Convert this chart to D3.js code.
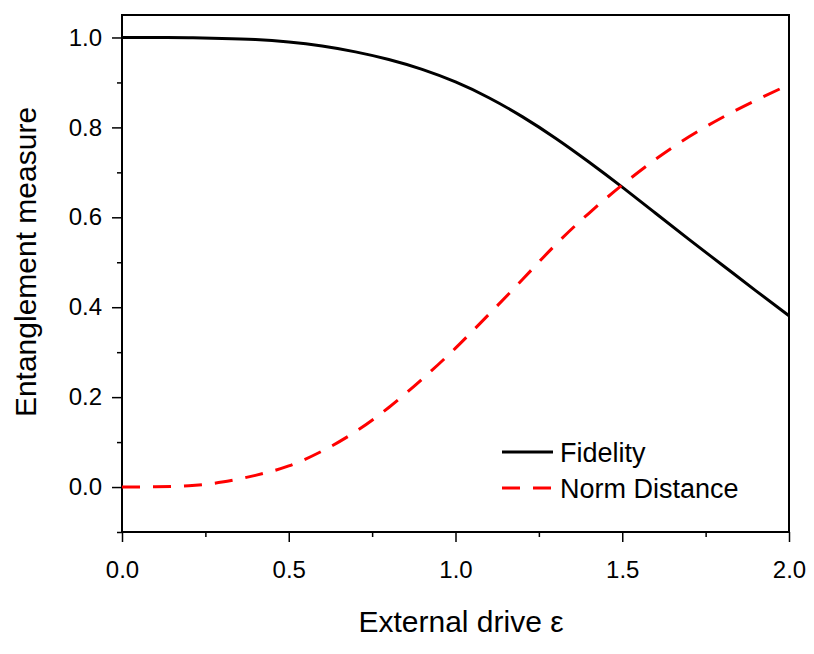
<!DOCTYPE html>
<html>
<head>
<meta charset="utf-8">
<script src="https://cdn.jsdelivr.net/npm/d3@7"></script>
<style>
  body { margin: 0; background: #fff; }
  text { font-family: "Liberation Sans", Arial, sans-serif; fill: #000; }
</style>
</head>
<body>
<svg id="chart" width="814" height="654"></svg>
<script>
//
// Data
//

var drive = [0, 0.1, 0.2, 0.3, 0.4, 0.5, 0.6, 0.7, 0.8, 0.9, 1.0,
             1.1, 1.2, 1.3, 1.4, 1.5, 1.6, 1.7, 1.8, 1.9, 2.0]
var fidelity = [1.0, 0.9999, 0.9993, 0.998, 0.9955, 0.990, 0.981, 0.968, 0.951, 0.929, 0.901,
                0.866, 0.824, 0.776, 0.723, 0.667, 0.609, 0.551, 0.494, 0.437, 0.381]
var normDistance = [0, 0.0005, 0.003, 0.011, 0.026, 0.047, 0.080, 0.123, 0.177, 0.240, 0.309,
                    0.384, 0.461, 0.539, 0.609, 0.672, 0.729, 0.779, 0.822, 0.860, 0.895]
var xTicks = [0, 0.5, 1.0, 1.5, 2.0]
var yTicks = [0, 0.2, 0.4, 0.6, 0.8, 1.0]
var legendLabels = ['Fidelity', 'Norm Distance']

//
// Layout
//

var margin = { left: 122, top: 15, right: 25, bottom: 122 }
var svg = d3.select('#chart')
var width = 814 - margin.left - margin.right
var height = 654 - margin.top - margin.bottom
var g = svg.append('g').attr('transform', 'translate(' + margin.left + ',' + margin.top + ')')

var x = d3.scaleLinear().domain([0, 2]).range([0, width])
var y = d3.scaleLinear().domain([-0.1, 1.05]).range([height, 0])

// frame
g.append('rect')
  .attr('width', width).attr('height', height)
  .attr('fill', 'none').attr('stroke', '#000').attr('stroke-width', 2)

// minor ticks
g.append('g')
  .attr('transform', 'translate(0,' + height + ')')
  .call(d3.axisBottom(x).tickValues([0.25, 0.75, 1.25, 1.75]).tickSize(5).tickFormat('').tickSizeOuter(0))
  .call(s => s.select('.domain').remove())
g.append('g')
  .call(d3.axisLeft(y).tickValues([-0.1, 0.1, 0.3, 0.5, 0.7, 0.9]).tickSize(5).tickFormat('').tickSizeOuter(0))
  .call(s => s.select('.domain').remove())

// major axes
var xAxis = g.append('g')
  .attr('transform', 'translate(0,' + height + ')')
  .call(d3.axisBottom(x).tickValues(xTicks).tickSize(10).tickPadding(19).tickFormat(d3.format('.1f')).tickSizeOuter(0))
var yAxis = g.append('g')
  .call(d3.axisLeft(y).tickValues(yTicks).tickSize(10).tickPadding(10).tickFormat(d3.format('.1f')).tickSizeOuter(0))

;[xAxis, yAxis].forEach(function(a) {
  a.select('.domain').remove()
  a.attr('font-size', 24).attr('font-family', '"Liberation Sans", Arial, sans-serif')
})
g.selectAll('.tick line').attr('stroke', '#000').attr('stroke-width', 1.5)

// curves
var line = function(vals) {
  return d3.line()
    .x(function(d, i) { return x(drive[i]) })
    .y(function(d) { return y(d) })
    .curve(d3.curveNatural)(vals)
}

g.append('path')
  .attr('d', line(fidelity))
  .attr('fill', 'none').attr('stroke', '#000').attr('stroke-width', 3)

g.append('path')
  .attr('d', line(normDistance))
  .attr('fill', 'none').attr('stroke', '#ff0000').attr('stroke-width', 3)
  .attr('stroke-dasharray', '18,13')

// legend
var legend = g.append('g').attr('transform', 'translate(380,437)')
legendLabels.forEach(function(label, i) {
  var row = legend.append('g').attr('transform', 'translate(0,' + (i * 36) + ')')
  row.append('line')
    .attr('x1', 0).attr('x2', 51)
    .attr('stroke', i === 0 ? '#000' : '#ff0000').attr('stroke-width', 3)
    .attr('stroke-dasharray', i === 0 ? null : '18,13')
  row.append('text')
    .attr('x', 58).attr('dy', '0.36em')
    .style('font-size', '27px')
    .text(label)
})

// axis titles
svg.append('text')
  .attr('x', 461).attr('y', 632)
  .attr('text-anchor', 'middle')
  .style('font-size', '30px')
  .text('External drive ε')

svg.append('text')
  .attr('transform', 'translate(36,262) rotate(-90)')
  .attr('text-anchor', 'middle')
  .style('font-size', '30px')
  .text('Entanglement measure')
</script>
</body>
</html>
